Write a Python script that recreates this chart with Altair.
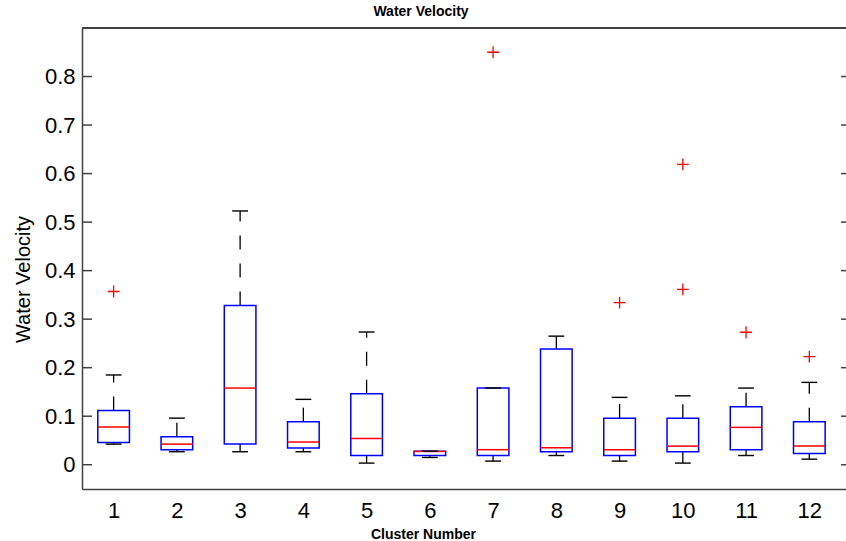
import altair as alt
import pandas as pd

clusters = [1, 2, 3, 4, 5, 6, 7, 8, 9, 10, 11, 12]
q1 = [0.046, 0.031, 0.0425, 0.0343, 0.0192, 0.019, 0.019, 0.0268, 0.019, 0.0268, 0.031, 0.0233]
median = [0.0776, 0.0425, 0.158, 0.0466, 0.0542, 0.0274, 0.031, 0.035, 0.031, 0.0384, 0.077, 0.0384]
q3 = [0.112, 0.0577, 0.328, 0.0887, 0.1464, 0.028, 0.158, 0.2385, 0.096, 0.096, 0.1196, 0.0887]
whisker_low = [0.0425, 0.0268, 0.0268, 0.0268, 0.0034, 0.015, 0.0075, 0.019, 0.0075, 0.0034, 0.019, 0.0115]
whisker_high = [0.185, 0.096, 0.523, 0.1347, 0.2735, 0.028, 0.158, 0.265, 0.1388, 0.142, 0.158, 0.1697]
outlier_cluster = [1, 7, 9, 10, 10, 11, 12]
outlier_value = [0.357, 0.85, 0.334, 0.619, 0.3615, 0.273, 0.2227]
y_ticks = [0, 0.1, 0.2, 0.3, 0.4, 0.5, 0.6, 0.7, 0.8]

BOX_HALF = 0.25
CAP_HALF = 0.125
W, H = 764, 461

box = pd.DataFrame({
    "cluster": clusters, "q1": q1, "median": median, "q3": q3,
    "lw": whisker_low, "uw": whisker_high,
})
box["left"] = box["cluster"] - BOX_HALF
box["right"] = box["cluster"] + BOX_HALF
box["cl"] = box["cluster"] - CAP_HALF
box["cr"] = box["cluster"] + CAP_HALF

outl = pd.DataFrame({"cluster": outlier_cluster, "value": outlier_value})
ticks = pd.DataFrame({"v": y_ticks})

xscale = alt.Scale(domain=[0.5, 12.58], nice=False, zero=False)
yscale = alt.Scale(domain=[-0.05, 0.9], nice=False, zero=False)
FONT = "Liberation Sans"

xaxis = alt.Axis(values=clusters, format="d", grid=False, ticks=False, tickSize=0,
                 labelPadding=11, labelFontSize=22, labelFont=FONT, labelColor="black",
                 labelFlush=False, labelOverlap=False,
                 domainColor="#404040", domainWidth=1.5,
                 title="Cluster Number", titleFont=FONT, titleFontSize=14,
                 titleFontWeight="bold", titleColor="black",
                 titleX=341, titleY=49, titleAlign="center", titleBaseline="alphabetic")
yaxis = alt.Axis(values=y_ticks, format=".1~f", grid=False, ticks=False, tickSize=0,
                 labelPadding=7, labelFontSize=22, labelFont=FONT, labelColor="black",
                 labelFlush=False, labelOverlap=False,
                 domainColor="#404040", domainWidth=1.5,
                 title="Water Velocity", titleFont=FONT, titleFontSize=20,
                 titleFontWeight="normal", titleColor="black",
                 titleX=-53, titleY=251, titleAlign="center", titleBaseline="alphabetic",
                 titleAngle=270)


def X(field):
    return alt.X(field, type="quantitative", scale=xscale, axis=xaxis)


def Y(field):
    return alt.Y(field, type="quantitative", scale=yscale, axis=yaxis)


base = alt.Chart(box)

whisk_up = base.mark_rule(color="black", strokeWidth=1.3, strokeDash=[14, 14]).encode(
    x=X("cluster"), y=Y("q3"), y2="uw:Q",
)
whisk_lo = base.mark_rule(color="black", strokeWidth=1.3, strokeDash=[14, 14]).encode(
    x=X("cluster"), y=Y("q1"), y2="lw:Q",
)
cap_up = base.mark_rule(color="black", strokeWidth=1.4).encode(
    x=X("cl"), x2="cr:Q", y=Y("uw"),
)
cap_lo = base.mark_rule(color="black", strokeWidth=1.4).encode(
    x=X("cl"), x2="cr:Q", y=Y("lw"),
)
boxes = base.mark_rect(fill="white", fillOpacity=0, stroke="#0000FF", strokeWidth=1.5).encode(
    x=X("left"), x2="right:Q", y=Y("q1"), y2="q3:Q",
)
med = base.mark_rule(color="#FF0000", strokeWidth=1.5).encode(
    x=X("left"), x2="right:Q", y=Y("median"),
)
pts = alt.Chart(outl).mark_point(shape="M-1,0H1M0,-1V1", size=140, filled=False,
                                 color="#FF0000", strokeWidth=1.3, opacity=1).encode(
    x=X("cluster"), y=Y("value"),
)
tick_l = alt.Chart(ticks).mark_rule(color="#404040", strokeWidth=1.5).encode(
    x=alt.value(0), x2=alt.value(10), y=Y("v"),
)
tick_r = alt.Chart(ticks).mark_rule(color="#404040", strokeWidth=1.5).encode(
    x=alt.value(W - 5), x2=alt.value(W), y=Y("v"),
)
top_line = alt.Chart(ticks).mark_rule(color="#404040", strokeWidth=1.5).encode(
    x=alt.value(0), x2=alt.value(W), y=alt.value(0),
)

chart = alt.layer(
    whisk_up, whisk_lo, boxes, med, cap_up, cap_lo, pts, tick_l, tick_r, top_line
).properties(
    width=W, height=H,
    autosize=alt.AutoSizeParams(type="none"),
    padding={"left": 82, "top": 28, "right": 0, "bottom": 52},
    title=alt.TitleParams(text="Water Velocity", font=FONT, fontSize=14, fontWeight="bold",
                          color="black", anchor="middle", frame="group", dx=-43,
                          offset=12, dy=15, baseline="alphabetic"),
).configure_view(stroke=None).configure(background="white")

chart.save("out.html", embed_options={"renderer": "svg", "actions": False})
